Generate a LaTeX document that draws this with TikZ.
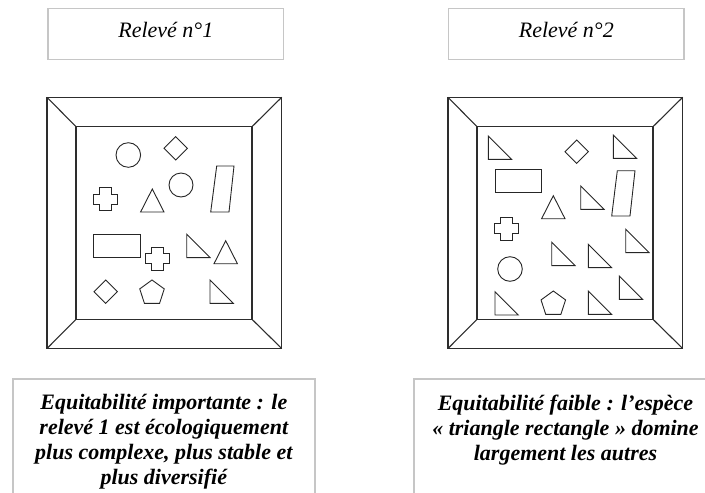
\documentclass[tikz,border=0pt]{standalone}
\usepackage{fontspec}
\setmainfont{Liberation Serif}
\usepackage{tikz}
\usetikzlibrary{positioning}
\definecolor{trait}{RGB}{45,45,45}
\definecolor{grisbord}{RGB}{198,198,198}
\tikzset{
  bord/.style={draw=trait,line width=1.1pt},
  forme/.style={draw=black!85,line width=0.9pt,line join=miter},
  titre/.style={draw=grisbord,line width=1.7pt,minimum width=235.5pt,minimum height=51pt,
    inner sep=0pt,font=\itshape\fontsize{22}{26}\selectfont,text height=15pt,text depth=8.4pt},
  cadretxt/.style={draw=grisbord,line width=1.7pt},
  bilan/.style={align=center,inner sep=0pt,font=\bfseries\itshape\fontsize{22}{25}\selectfont},
}
% little species drawn in the quadrats
\newcommand{\rtri}[1]{\draw[forme] (#1) -- ++(0,23.3) -- ++(23.3,0) -- cycle;}
\newcommand{\isotri}[1]{\draw[forme] (#1) -- ++(11.7,23) -- ++(-23.4,0) -- cycle;}
\newcommand{\losange}[1]{\draw[forme] (#1) +(0,-11.7) -- +(11.7,0) -- +(0,11.7) -- +(-11.7,0) -- cycle;}
\newcommand{\croix}[1]{\draw[forme,shift={(#1)}] (-6,-11.5) -- (6,-11.5) -- (6,-5) -- (12,-5) -- (12,5) -- (6,5)
  -- (6,11.5) -- (-6,11.5) -- (-6,5) -- (-12,5) -- (-12,-5) -- (-6,-5) -- cycle;}
\newcommand{\penta}[1]{\draw[forme] (#1) +(-90:12.9) -- +(-18:12.9) -- +(54:12.9) -- +(126:12.9) -- +(198:12.9) -- cycle;}

\begin{document}
\begin{tikzpicture}[x=1pt,y=-1pt]
  \useasboundingbox (0,0) rectangle (705,493);
  \clip (0,0) rectangle (705,493);
  \def\cadre{\draw[bord] (47,97.3) rectangle (281.7,348.5); \draw[bord] (76,126.7) rectangle (252,319.3);
    \draw[bord] (47,97.3) -- (76,126.7) (281.7,97.3) -- (252,126.7) (47,348.5) -- (76,319.3) (281.7,348.5) -- (252,319.3);}
  % titles
  \node[titre] (releve1) at (165.8,34) {Relevé n°1};
  \node[titre] (releve2) at (566.3,34) {Relevé n°2};
  % quadrat 1
  \begin{scope}
    \cadre
    \draw[forme] (128.3,155) circle[radius=12.3pt];
    \draw[forme] (181,185) circle[radius=12pt];
    \losange{175.7,148.3} \losange{105.7,291.7}
    \draw[forme] (216.7,166) -- (234,166) -- (229,212) -- (210.7,212) -- cycle;
    \croix{105,199.3} \croix{157.7,258.8}
    \isotri{152.3,189} \isotri{225.7,240.7}
    \draw[forme] (93.3,234.3) rectangle (140.3,257);
    \rtri{186.7,234.3} \rtri{210,280}
    \penta{152,292.9}
  \end{scope}
  % quadrat 2
  \begin{scope}[xshift=401pt]
    \cadre
    \foreach \p in {{87.3,136},{212.3,135},{179.7,186},{224.7,229.3},{150.7,242.3},{187.3,244.3},{218.3,276},{94,291.7},{187.3,291}}
      {\rtri{\p}}
    \losange{175.7,151.7}
    \draw[forme] (94,169.3) rectangle (140.7,192);
    \draw[forme] (216.3,170.7) -- (234,170.7) -- (229,216) -- (210.7,216) -- cycle;
    \isotri{152.3,195.7}
    \croix{105.7,228.7}
    \draw[forme] (109,269) circle[radius=12.3pt];
    \penta{152.3,303.9}
  \end{scope}
  % conclusions
  \draw[cadretxt] (12.7,500) |- (315,379) -- (315,500);
  \draw[cadretxt] (414,500) |- (717,379) -- (717,500);
  \node[bilan,anchor=north] (bilan1) at (163.8,394.5) {Equitabilité importante : le\\relevé 1 est écologiquement\\plus complexe, plus stable et\\plus diversifié};
  \node[bilan,anchor=north] (bilan2) at (565.5,394.5) {Equitabilité faible : l’espèce\\«~triangle rectangle~» domine\\largement les autres};
\end{tikzpicture}
\end{document}
